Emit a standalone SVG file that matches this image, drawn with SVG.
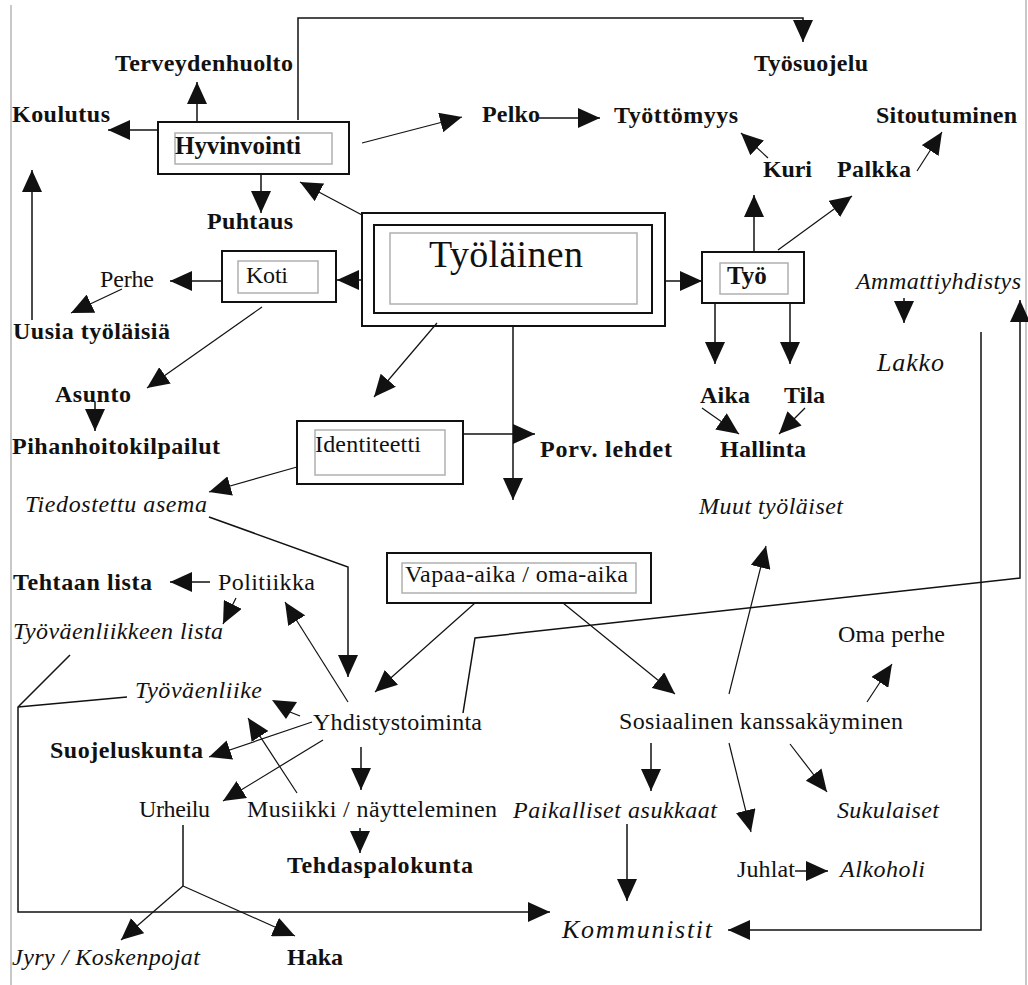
<svg xmlns="http://www.w3.org/2000/svg" width="1028" height="985" viewBox="0 0 1028 985">
<style>
text{font-family:"Liberation Serif","Times New Roman",serif;font-size:24px;fill:#111}
.b{font-weight:bold}
.i{font-style:italic}
.box{fill:none;stroke:#111;stroke-width:2}
.inner{fill:none;stroke:#b0b0b0;stroke-width:1.5}
.c{fill:none;stroke:#111;stroke-width:1.5}
.cd{fill:none;stroke:#111;stroke-width:1.2}
.border{stroke:#c8c8c8;stroke-width:2}
</style>
<defs>
<marker id="ah" viewBox="0 0 22 20" refX="22" refY="10" markerWidth="22" markerHeight="20" markerUnits="userSpaceOnUse" orient="auto">
<path d="M0,0 L22,10 L0,20 z" fill="#111"/>
</marker>
</defs>
<rect width="1028" height="985" fill="#fff"/>
<line class="border" x1="11" y1="5" x2="11" y2="985"/>
<line class="border" x1="1026" y1="0" x2="1026" y2="985"/>

<g id="connectors" marker-end="url(#ah)">
<polyline class="c" points="298,120 298,18 803,18 803,42"/>
<line class="c" x1="197" y1="122" x2="197" y2="82"/>
<line class="c" x1="158" y1="130" x2="108" y2="130"/>
<line class="c" x1="261" y1="174" x2="261" y2="213"/>
<line class="cd" x1="362" y1="215" x2="300" y2="182"/>
<line class="cd" x1="362" y1="143" x2="462" y2="117"/>
<line class="c" x1="539" y1="118" x2="600" y2="118"/>
<line class="cd" x1="768" y1="158" x2="741" y2="133"/>
<line class="cd" x1="917" y1="171" x2="942" y2="132"/>
<line class="c" x1="754" y1="252" x2="754" y2="195"/>
<line class="cd" x1="778" y1="250" x2="852" y2="196"/>
<line class="c" x1="362" y1="280" x2="337" y2="280"/>
<line class="c" x1="665" y1="281" x2="702" y2="281"/>
<line class="c" x1="222" y1="281" x2="170" y2="281"/>
<line class="cd" x1="122" y1="289" x2="71" y2="313"/>
<line class="c" x1="32" y1="320" x2="32" y2="170"/>
<line class="cd" x1="262" y1="307" x2="147" y2="388"/>
<line class="c" x1="95" y1="402" x2="95" y2="431"/>
<line class="cd" x1="437" y1="323" x2="374" y2="397"/>
<line class="c" x1="513" y1="326" x2="513" y2="500"/>
<line class="c" x1="463" y1="434" x2="535" y2="434"/>
<line class="cd" x1="297" y1="467" x2="209" y2="492"/>
<line class="c" x1="715" y1="302" x2="715" y2="364"/>
<line class="c" x1="790" y1="302" x2="790" y2="364"/>
<line class="cd" x1="702" y1="408" x2="739" y2="434"/>
<line class="cd" x1="805" y1="408" x2="779" y2="434"/>
<line class="c" x1="904" y1="298" x2="904" y2="323"/>
<polyline class="c" points="209,517 348,567 348,677"/>
<line class="c" x1="210" y1="582" x2="170" y2="582"/>
<line class="cd" x1="236" y1="598" x2="223" y2="624"/>
<line class="cd" x1="348" y1="702" x2="285" y2="602"/>
<line class="cd" x1="475" y1="603" x2="375" y2="692"/>
<polyline class="c" points="463,713 475,638 1020,578 1020,300"/>
<line class="cd" x1="312" y1="722" x2="209" y2="757"/>
<line class="cd" x1="297" y1="793" x2="248" y2="718"/>
<line class="cd" x1="323" y1="740" x2="223" y2="801"/>
<line class="c" x1="361" y1="747" x2="361" y2="790"/>
<line class="c" x1="360" y1="828" x2="360" y2="853"/>
<line class="cd" x1="183" y1="886" x2="121" y2="940"/>
<line class="cd" x1="183" y1="886" x2="295" y2="936"/>
<polyline class="c" points="70,655 18,707 18,912 550,912"/>
<line class="cd" x1="563" y1="603" x2="675" y2="694"/>
<line class="cd" x1="729" y1="694" x2="766" y2="546"/>
<line class="cd" x1="867" y1="702" x2="892" y2="664"/>
<line class="c" x1="651" y1="743" x2="651" y2="791"/>
<line class="cd" x1="729" y1="743" x2="751" y2="832"/>
<line class="cd" x1="790" y1="744" x2="827" y2="792"/>
<line class="c" x1="627" y1="824" x2="627" y2="901"/>
<line class="c" x1="795" y1="871" x2="828" y2="871"/>
<polyline class="c" points="981,332 981,930 728,930"/>
<g marker-end="none">
<line class="c" x1="183" y1="825" x2="183" y2="886"/>
<line class="c" x1="18" y1="707" x2="127" y2="697"/>
<line class="cd" x1="300" y1="716" x2="290" y2="712"/>
<polygon points="272,700 297,702 286,719" fill="#111"/>
</g>
</g>

<g id="hyvinvointi"><rect class="box" x="158" y="122" width="191" height="52"/><rect class="inner" x="175" y="133" width="157" height="31"/><text class="b" x="175" y="154" style="font-size:25px" textLength="126">Hyvinvointi</text></g>
<g id="koti"><rect class="box" x="222" y="251" width="114" height="51"/><rect class="inner" x="238" y="261" width="80" height="32"/><text x="246" y="283" textLength="42">Koti</text></g>
<g id="tyolainen"><rect class="box" x="362" y="213" width="303" height="113"/><rect class="box" x="374" y="225" width="278" height="88"/><rect class="inner" x="390" y="233" width="247" height="71"/><text x="429" y="267" style="font-size:38px" textLength="154">Työläinen</text></g>
<g id="tyo"><rect class="box" x="702" y="252" width="102" height="51"/><rect class="inner" x="720" y="263" width="68" height="31"/><text class="b" x="727" y="284" style="font-size:25px">Työ</text></g>
<g id="identiteetti"><rect class="box" x="297" y="421" width="166" height="63"/><rect class="inner" x="315" y="430" width="130" height="45"/><text x="315" y="452" textLength="106">Identiteetti</text></g>
<g id="vapaa-aika"><rect class="box" x="387" y="553" width="264" height="50"/><rect class="inner" x="402" y="563" width="234" height="30"/><text x="405" y="582" textLength="223">Vapaa-aika / oma-aika</text></g>

<g id="terveydenhuolto"><text class="b" x="115" y="71" textLength="178">Terveydenhuolto</text></g>
<g id="tyosuojelu"><text class="b" x="754" y="71" textLength="114">Työsuojelu</text></g>
<g id="koulutus"><text class="b" x="12" y="122" textLength="98">Koulutus</text></g>
<g id="pelko"><text class="b" x="482" y="122" textLength="58">Pelko</text></g>
<g id="tyottomyys"><text class="b" x="614" y="123" textLength="124">Työttömyys</text></g>
<g id="sitoutuminen"><text class="b" x="876" y="123" textLength="141">Sitoutuminen</text></g>
<g id="kuri"><text class="b" x="763" y="177" textLength="49">Kuri</text></g>
<g id="palkka"><text class="b" x="837" y="177" textLength="74">Palkka</text></g>
<g id="puhtaus"><text class="b" x="207" y="229" textLength="86">Puhtaus</text></g>
<g id="perhe"><text x="100" y="287" textLength="54">Perhe</text></g>
<g id="ammattiyhdistys"><text class="i" x="856" y="289" textLength="165">Ammattiyhdistys</text></g>
<g id="uusia"><text class="b" x="13" y="339" textLength="157">Uusia työläisiä</text></g>
<g id="lakko"><text class="i" x="877" y="371" style="font-size:26px" textLength="67">Lakko</text></g>
<g id="asunto"><text class="b" x="55" y="402" textLength="76">Asunto</text></g>
<g id="aika"><text class="b" x="700" y="403" textLength="50">Aika</text></g>
<g id="tila"><text class="b" x="784" y="403" textLength="41">Tila</text></g>
<g id="pihanhoito"><text class="b" x="12" y="454" textLength="208">Pihanhoitokilpailut</text></g>
<g id="porv"><text class="b" x="540" y="457" textLength="132">Porv. lehdet</text></g>
<g id="hallinta"><text class="b" x="720" y="457" textLength="86">Hallinta</text></g>
<g id="tiedostettu"><text class="i" x="25" y="512" textLength="182">Tiedostettu asema</text></g>
<g id="muut"><text class="i" x="699" y="514" textLength="144">Muut työläiset</text></g>
<g id="tehtaan-lista"><text class="b" x="13" y="590" textLength="139">Tehtaan lista</text></g>
<g id="politiikka"><text x="218" y="590" textLength="97">Politiikka</text></g>
<g id="tyovaenliikkeen-lista"><text class="i" x="13" y="639" textLength="210">Työväenliikkeen lista</text></g>
<g id="oma-perhe"><text x="838" y="642" textLength="107">Oma perhe</text></g>
<g id="tyovaenliike"><text class="i" x="135" y="698" textLength="127">Työväenliike</text></g>
<g id="yhdistystoiminta"><text x="313" y="730" textLength="169">Yhdistystoiminta</text></g>
<g id="sosiaalinen"><text x="619" y="729" textLength="284">Sosiaalinen kanssakäyminen</text></g>
<g id="suojeluskunta"><text class="b" x="50" y="758" textLength="153">Suojeluskunta</text></g>
<g id="urheilu"><text x="139" y="817" textLength="71">Urheilu</text></g>
<g id="musiikki"><text x="247" y="817" textLength="250">Musiikki / näytteleminen</text></g>
<g id="paikalliset"><text class="i" x="513" y="818" textLength="204">Paikalliset asukkaat</text></g>
<g id="sukulaiset"><text class="i" x="837" y="818" textLength="102">Sukulaiset</text></g>
<g id="tehdaspalokunta"><text class="b" x="287" y="873" textLength="186">Tehdaspalokunta</text></g>
<g id="juhlat"><text x="737" y="877" textLength="58">Juhlat</text></g>
<g id="alkoholi"><text class="i" x="840" y="877" textLength="85">Alkoholi</text></g>
<g id="kommunistit"><text class="i" x="562" y="938" style="font-size:26px" textLength="150">Kommunistit</text></g>
<g id="jyry"><text class="i" x="12" y="965" textLength="188">Jyry / Koskenpojat</text></g>
<g id="haka"><text class="b" x="287" y="965" textLength="56">Haka</text></g>
</svg>
